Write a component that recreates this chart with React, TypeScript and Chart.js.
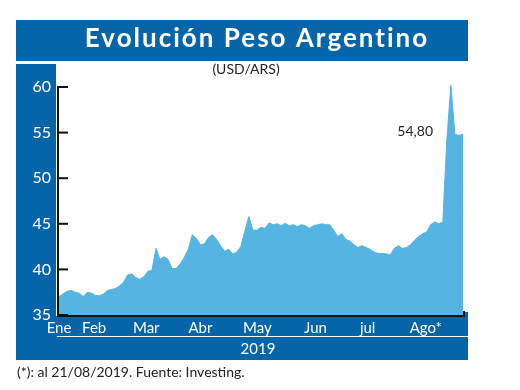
import React, { useEffect, useRef } from 'react';
import { Chart, registerables } from 'chart.js';

Chart.register(...registerables);

const title = 'Evolución Peso Argentino';
const subtitle = '(USD/ARS)';
const footnote = '(*): al 21/08/2019. Fuente: Investing.';
const yearLabel = '2019';
const lastLabel = '54,80';

const monthLabels = ['Ene', 'Feb', 'Mar', 'Abr', 'May', 'Jun', 'jul', 'Ago*'];
const monthTickPos = [0, 8.7, 21.6, 35, 49.1, 63.5, 76.4, 90.8];
const yTicks = [35, 40, 45, 50, 55, 60];

const usdArs = [
  37.0, 37.3, 37.6, 37.7, 37.5, 37.4, 37.0, 37.5, 37.4, 37.15,
  37.1, 37.3, 37.7, 37.8, 37.9, 38.2, 38.6, 39.4, 39.5, 39.1,
  38.9, 39.2, 39.8, 39.9, 42.3, 41.1, 41.4, 41.1, 40.1, 40.1,
  40.6, 41.3, 42.2, 43.8, 43.4, 42.7, 42.8, 43.5, 43.8, 43.3,
  42.6, 42.0, 42.2, 41.7, 41.9, 42.5, 44.2, 45.8, 44.3, 44.3,
  44.6, 44.5, 45.1, 44.9, 45.0, 44.8, 45.05, 44.8, 44.9, 44.7,
  44.9, 44.8, 44.5, 44.8, 44.9, 45.0, 44.9, 44.9, 44.3, 43.6,
  43.9, 43.3, 43.1, 42.7, 42.4, 42.6, 42.4, 42.2, 41.9, 41.75,
  41.75, 41.7, 41.6, 42.3, 42.6, 42.3, 42.4, 42.7, 43.2, 43.6,
  43.9, 44.1, 44.9, 45.2, 45.0, 45.2, 54.2, 60.2, 54.8, 54.7,
  54.8,
];

const BLUE = '#0664A8';
const FILL = '#55B4E1';
const FONT = 'Lato';

const decor = {
  id: 'decor',
  beforeDraw(chart: any) {
    const ctx = chart.ctx;
    ctx.save();
    ctx.fillStyle = '#ffffff';
    ctx.fillRect(0, 0, 520, 390);
    ctx.fillStyle = BLUE;
    ctx.fillRect(16, 20, 452, 41);
    ctx.fillRect(16, 64, 40, 252);
    ctx.fillRect(16, 316, 452, 44);
    ctx.fillRect(463, 312, 5, 4);

    ctx.fillStyle = '#ffffff';
    ctx.textAlign = 'center';
    ctx.textBaseline = 'alphabetic';
    ctx.font = `bold 26px ${FONT}`;
    (ctx as any).letterSpacing = '2px';
    ctx.fillText(title, 257, 47);
    (ctx as any).letterSpacing = '0px';

    ctx.font = `15px ${FONT}`;
    ctx.fillText(yearLabel, 258, 354);

    ctx.fillStyle = '#222222';
    ctx.font = `14px ${FONT}`;
    ctx.fillText(subtitle, 246, 74);

    ctx.textAlign = 'left';
    ctx.fillText(footnote, 17, 377);

    ctx.strokeStyle = '#ffffff';
    ctx.lineWidth = 1;
    ctx.beginPath();
    ctx.moveTo(57, 336.5);
    ctx.lineTo(468, 336.5);
    ctx.stroke();
    ctx.restore();
  },
  afterDraw(chart: any) {
    const ctx = chart.ctx;
    const xs = chart.scales.x;
    const ys = chart.scales.y;
    const left = xs.getPixelForValue(0) - 1;
    const right = xs.getPixelForValue(usdArs.length - 1) + 1;
    const bottom = ys.getPixelForValue(35);
    const top = ys.getPixelForValue(60) - 1;
    ctx.save();
    ctx.strokeStyle = '#111111';
    ctx.lineWidth = 2;
    ctx.beginPath();
    ctx.moveTo(left, top);
    ctx.lineTo(left, bottom + 1);
    ctx.lineTo(right, bottom + 1);
    ctx.lineTo(right, bottom - 4);
    ctx.stroke();
    yTicks.forEach((v) => {
      const py = ys.getPixelForValue(v);
      ctx.beginPath();
      ctx.moveTo(left, py);
      ctx.lineTo(left + 10, py);
      ctx.stroke();
    });
    ctx.fillStyle = '#222222';
    ctx.font = `14px ${FONT}`;
    ctx.textAlign = 'right';
    ctx.textBaseline = 'middle';
    const last = usdArs[usdArs.length - 1];
    ctx.fillText(lastLabel, right - 31, ys.getPixelForValue(last) - 3);
    ctx.restore();
  },
};

export default function App() {
  const ref = useRef<HTMLCanvasElement>(null);
  useEffect(() => {
    if (!ref.current) return;
    const chart = new Chart(ref.current, {
      type: 'line',
      data: {
        labels: usdArs.map((_, i) => i),
        datasets: [
          {
            data: usdArs.map((v, i) => ({ x: i, y: v })),
            fill: 'start',
            backgroundColor: FILL,
            borderColor: FILL,
            borderWidth: 1,
            pointRadius: 0,
            tension: 0,
            clip: false,
          } as any,
        ],
      },
      options: {
        responsive: false,
        animation: false,
        layout: { padding: { top: 84, right: 57, left: 0, bottom: 0 } },
        plugins: { legend: { display: false }, tooltip: { enabled: false } },
        scales: {
          x: {
            type: 'linear',
            min: 0,
            max: usdArs.length - 1,
            grid: { display: false, drawTicks: false },
            border: { display: false },
            afterBuildTicks: (scale: any) => {
              scale.ticks = monthTickPos.map((v) => ({ value: v }));
            },
            afterFit: (scale: any) => {
              scale.height = 75;
            },
            ticks: {
              autoSkip: false,
              maxRotation: 0,
              padding: 4,
              color: '#ffffff',
              font: { family: FONT, size: 15 },
              callback: (_v: any, i: number) => monthLabels[i],
            },
          },
          y: {
            min: 35,
            max: 60.33,
            grid: { display: false, drawTicks: false },
            border: { display: false },
            afterBuildTicks: (scale: any) => {
              scale.ticks = yTicks.map((v) => ({ value: v }));
            },
            afterFit: (scale: any) => {
              scale.width = 59;
            },
            ticks: {
              padding: 8,
              color: '#ffffff',
              font: { family: FONT, size: 16 },
              callback: (v: any) => String(v),
            },
          },
        },
      },
      plugins: [decor],
    });
    return () => chart.destroy();
  }, []);
  return (
    <div style={{ position: 'fixed', left: 0, top: 0, width: 520, height: 390 }}>
      <canvas ref={ref} width={520} height={390} />
    </div>
  );
}
